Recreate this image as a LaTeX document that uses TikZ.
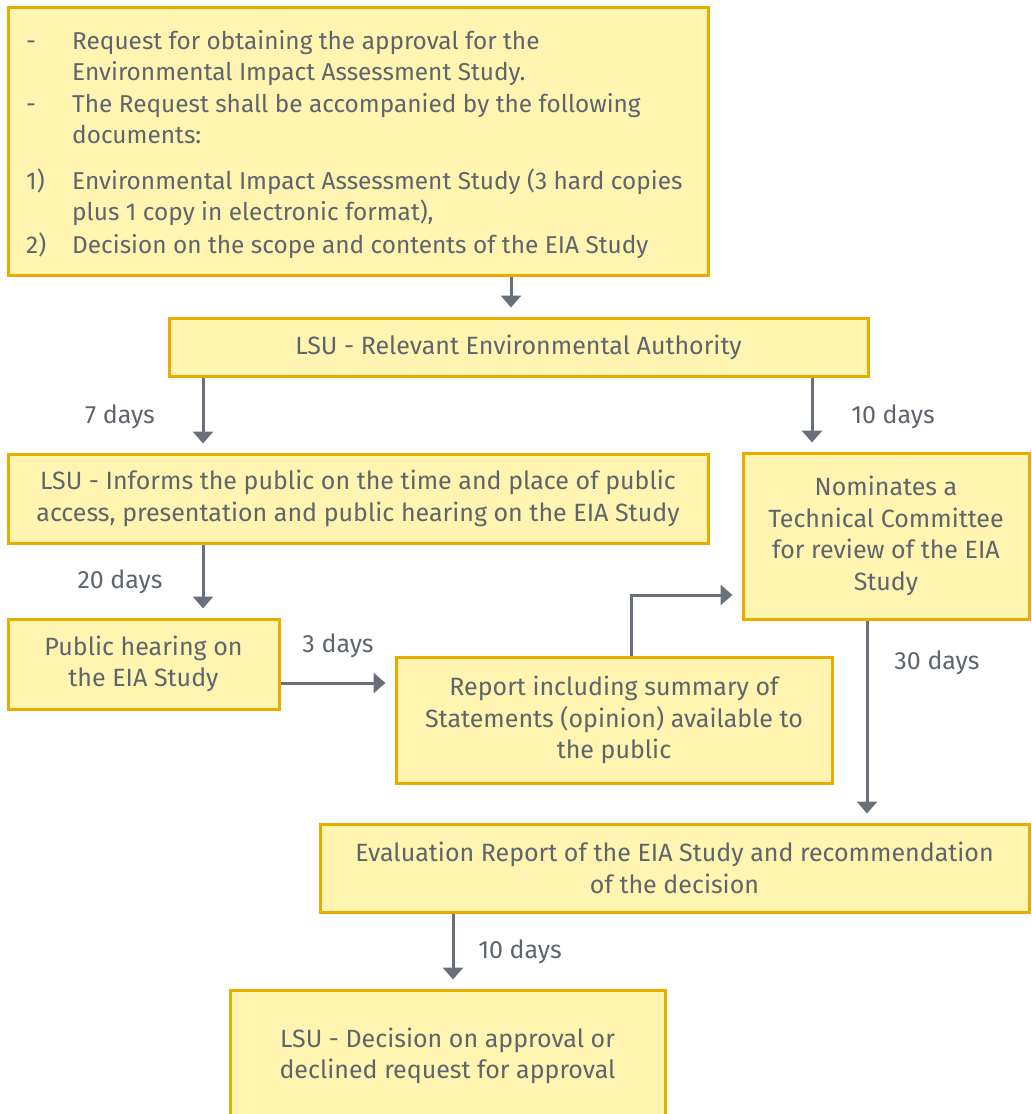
\documentclass[tikz,border=0pt]{standalone}
\usepackage{fontspec}
\setmainfont{Fira Sans}
\usetikzlibrary{arrows.meta}
\definecolor{boxfill}{HTML}{FFF5B0}
\definecolor{boxline}{HTML}{E8AD00}
\definecolor{ink}{HTML}{5F656D}
\definecolor{arrowgray}{HTML}{6A7079}
\begin{document}
\begin{tikzpicture}[x=1pt,y=-1pt,
  every node/.style={text=ink,font=\fontsize{25}{31.5}\selectfont},
  stepbox/.style={draw=boxline,fill=boxfill,line width=3pt,align=center,inner sep=0pt},
  line/.style={anchor=base west,inner sep=0pt,font=\fontsize{24.4}{31.5}\selectfont},
  flow/.style={draw=arrowgray,line width=3pt,-{Triangle[width=20pt,length=12pt]},shorten >=9pt},
  days/.style={inner sep=0pt}]
\useasboundingbox (0,0) rectangle (1032,1114);

% request box with its list
\node[stepbox,minimum width=700pt,minimum height=268pt] (req) at (358,141) {};
\node[line] (m1) at (26,49) {-};
\node[line] (t1) at (72,49) {Request for obtaining the approval for the};
\node[line] (t1b) at (72,80) {Environmental Impact Assessment Study.};
\node[line] (m2) at (26,112) {-};
\node[line] (t2) at (72,112) {The Request shall be accompanied by the following};
\node[line] (t2b) at (72,143) {documents:};
\node[line] (m3) at (26,189) {1)};
\node[line] (t3) at (72,189) {Environmental Impact Assessment Study (3 hard copies};
\node[line] (t3b) at (72,220) {plus 1 copy in electronic format),};
\node[line] (m4) at (26,253) {2)};
\node[line] (t4) at (72,253) {Decision on the scope and contents of the EIA Study};

% process boxes
\node[stepbox,minimum width=699pt,minimum height=58pt] (lsu) at (518.5,347) {LSU - Relevant Environmental Authority};
\node[stepbox,minimum width=700pt,minimum height=89pt] (inform) at (358,498.5)
  {LSU - Informs the public on the time and place of public\\access, presentation and public hearing on the EIA Study};
\node[stepbox,minimum width=286pt,minimum height=166pt] (tech) at (886,536)
  {Nominates a\\Technical Committee\\for review of the EIA\\Study};
\node[stepbox,minimum width=271pt,minimum height=90pt] (hear) at (143.5,664)
  {Public hearing on\\the EIA Study};
\node[stepbox,minimum width=436pt,minimum height=126pt] (report) at (614,720)
  {Report including summary of\\Statements (opinion) available to\\the public};
\node[stepbox,minimum width=709pt,minimum height=88pt] (eval) at (674.5,868)
  {Evaluation Report of the EIA Study and recommendation\\of the decision};
\node[stepbox,minimum width=435pt,minimum height=150pt] (decide) at (447.5,1065) {};
\node[align=center,inner sep=0pt] (decidetext) at (447.5,1056)
  {LSU - Decision on approval or\\declined request for approval};

% connector columns
\coordinate (xtop) at (511,0);
\coordinate (x7) at (203,0);
\coordinate (x10) at (812,0);
\coordinate (x30) at (867,0);
\coordinate (xlast) at (453,0);
\coordinate (xrep) at (631,0);
\coordinate (bend) at (631,595);

\draw[flow] (xtop |- req.south) -- (xtop |- lsu.north);
\draw[flow] (x7 |- lsu.south) -- (x7 |- inform.north);
\draw[flow] (x10 |- lsu.south) -- (x10 |- tech.north);
\draw[flow] (x7 |- inform.south) -- (x7 |- hear.north);
\draw[flow] (hear.east |- 0,683) -- (report.west |- 0,683);
\draw[flow] (xrep |- report.north) -- (bend) -- (bend -| tech.west);
\draw[flow] (x30 |- tech.south) -- (x30 |- eval.north);
\draw[flow] (xlast |- eval.south) -- (xlast |- decide.north);

% durations
\node[days] (d7) at (120,417) {7 days};
\node[days] (d10a) at (893,417) {10 days};
\node[days] (d20) at (120,582) {20 days};
\node[days] (d3) at (338,646) {3 days};
\node[days] (d30) at (937,663) {30 days};
\node[days] (d10b) at (520,952) {10 days};
\end{tikzpicture}
\end{document}
